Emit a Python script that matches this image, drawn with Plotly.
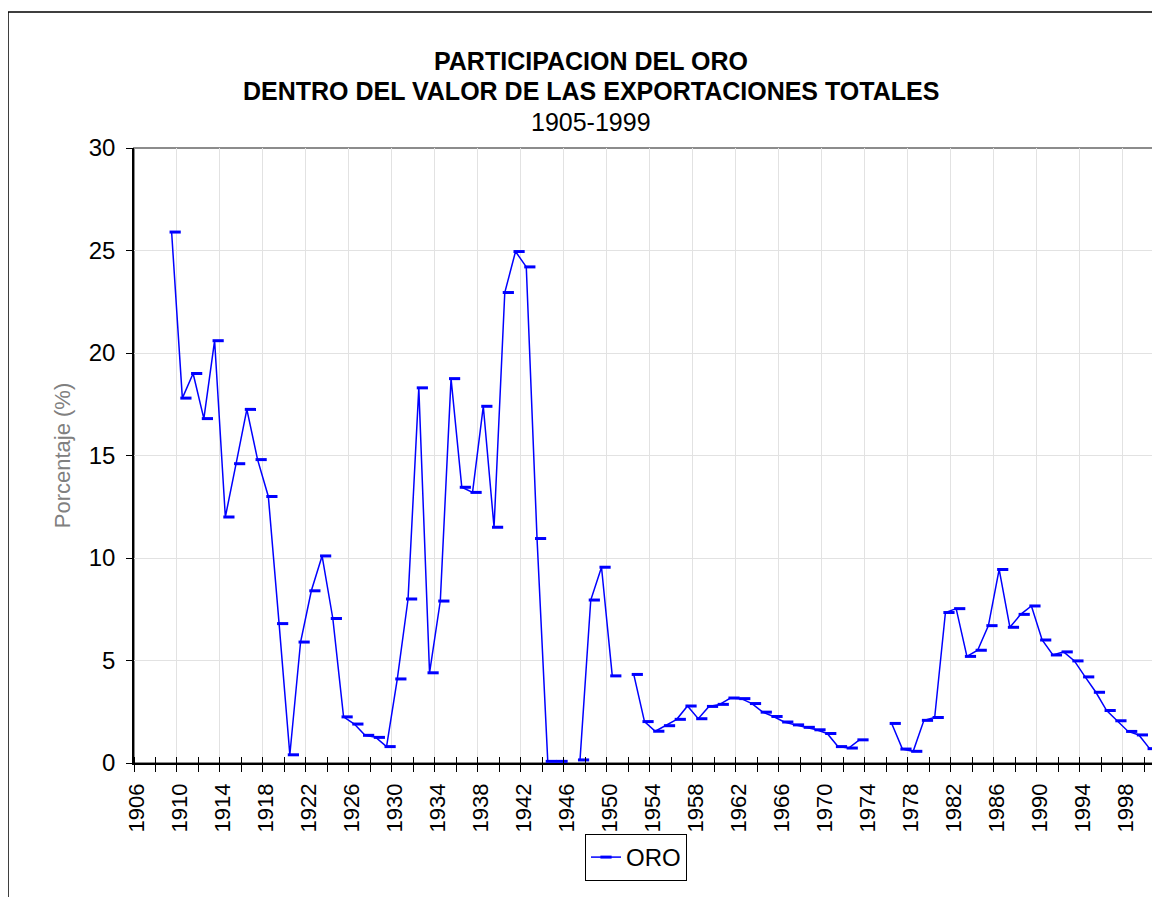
import plotly.graph_objects as go

# ---- data ----
years = list(range(1909, 2001))
oro = [
    25.9, 17.8, 19.0, 16.8, 20.6, 12.0, 14.6, 17.25, 14.8, 13.0,      # 1909-1918
    6.8, 0.4, 5.9, 8.4, 10.1, 7.05, 2.25, 1.9, 1.35, 1.25,            # 1919-1928
    0.8, 4.1, 8.0, 18.3, 4.4, 7.9, 18.75, 13.45, 13.2, 17.4,          # 1929-1938
    11.5, 22.95, 24.95, 24.2, 10.95, 0.08, 0.08, None, 0.15, 7.95,    # 1939-1948
    9.55, 4.25, None, 4.32, 2.02, 1.55, 1.82, 2.13, 2.78, 2.16,       # 1949-1958
    2.76, 2.86, 3.17, 3.14, 2.90, 2.48, 2.27, 2.0, 1.86, 1.74,        # 1959-1968
    1.62, 1.44, 0.8, 0.73, 1.13, None, None, 1.93, 0.68, 0.57,        # 1969-1978
    2.08, 2.22, 7.34, 7.53, 5.2, 5.5, 6.7, 9.44, 6.62, 7.25,          # 1979-1988
    7.66, 6.0, 5.27, 5.42, 4.98, 4.2, 3.45, 2.56, 2.06, 1.54,         # 1989-1998
    1.37, 0.70,                                                       # 1999-2000
]
label_years = list(range(1906, 2000, 4))
y_ticks = [0, 5, 10, 15, 20, 25, 30]

title_lines = ["<b>PARTICIPACION DEL ORO</b>",
               "<b>DENTRO DEL VALOR DE LAS EXPORTACIONES TOTALES</b>",
               "1905-1999"]

# ---- layout geometry ----
# page coordinates of the reference; the html body adds an 8px offset
OFF = 8
W, H = 1160, 897
PL, PR, PT, PB = 134, 1155, 148, 763          # plot area in page pixels
L, R, T, B = PL - OFF, PR - OFF, PT - OFF, PB - OFF
FONT = "Liberation Sans, Arial, sans-serif"
BLUE = "#0000FF"
GRID = "#e2e2e2"


def px(x_page):
    return (x_page - PL) / (PR - PL)


def py(y_page):
    return (PB - y_page) / (PB - PT)


x_min, x_max = 1905.5, 2000.5
boundary4 = [y - 0.5 for y in label_years if y - 0.5 > x_min]
boundary2 = [x_min + 2 * k for k in range(0, 48)]
marker_shift = 0.33   # dash marker drawn to the right of the vertex
label_shift = -0.25   # rotated labels sit slightly left of category centre

fig = go.Figure()
fig.add_trace(go.Scatter(
    x=years, y=oro, mode="lines", line=dict(color=BLUE, width=1.5),
    showlegend=False, connectgaps=False, xaxis="x", yaxis="y"))
fig.add_trace(go.Scatter(
    x=[y + marker_shift for y in years], y=oro, mode="markers",
    marker=dict(symbol="line-ew", size=8, color=BLUE,
                line=dict(color=BLUE, width=3)),
    showlegend=False, xaxis="x", yaxis="y"))
fig.add_trace(go.Scatter(
    x=[None], y=[None], mode="lines+markers", name="ORO",
    line=dict(color=BLUE, width=1.5),
    marker=dict(symbol="line-ew", size=8, color=BLUE,
                line=dict(color=BLUE, width=3)),
    showlegend=True))

fig.update_layout(
    width=W, height=H,
    margin=dict(l=L, r=W - R, t=T, b=H - B, pad=0, autoexpand=False),
    paper_bgcolor="white", plot_bgcolor="white",
    font=dict(family=FONT, color="black", size=24),
    showlegend=True,
    legend=dict(orientation="h", x=px(636), y=py(834), xanchor="center",
                yanchor="top", bordercolor="black", borderwidth=1,
                bgcolor="white", font=dict(size=24, family=FONT),
                itemwidth=30),
    xaxis=dict(
        range=[x_min, x_max], tickmode="array",
        tickvals=[y + label_shift for y in label_years],
        ticktext=[str(y) for y in label_years], tickangle=-90,
        ticks="", ticklen=0, showgrid=False, zeroline=False,
        showline=True, linecolor="black", linewidth=1.5, automargin=False,
        tickfont=dict(size=22, family=FONT), ticklabelstandoff=10,
        minor=dict(tickmode="array", tickvals=boundary2, ticks="outside",
                   ticklen=7, tickcolor="black", tickwidth=1, showgrid=False),
    ),
    xaxis2=dict(
        overlaying="x", matches="x", range=[x_min, x_max], side="bottom",
        anchor="y", tickmode="array", tickvals=boundary4, showticklabels=False,
        ticks="", showgrid=True, gridcolor=GRID, gridwidth=1,
        zeroline=False, showline=False, automargin=False,
        minor=dict(tickmode="array", tickvals=boundary2, ticks="inside",
                   ticklen=6, tickcolor="black", tickwidth=1, showgrid=False),
    ),
    yaxis=dict(
        range=[0, 30], tickmode="array", tickvals=y_ticks,
        ticks="outside", ticklen=6, tickcolor="black", automargin=False,
        showgrid=True, gridcolor=GRID, gridwidth=1, zeroline=False,
        showline=True, linecolor="black", linewidth=1.5,
        tickfont=dict(size=24, family=FONT), ticklabelstandoff=6,
        title=dict(text="Porcentaje (%)", font=dict(size=22, color="#808080",
                                                   family=FONT), standoff=12),
    ),
)

# make xaxis2 exist with a dummy invisible trace
fig.add_trace(go.Scatter(x=[None], y=[None], xaxis="x2", yaxis="y",
                         showlegend=False, hoverinfo="skip"))

# plot-area border (gray, top & right) and outer chart frame
fig.add_shape(type="rect", xref="paper", yref="paper", x0=0, y0=0, x1=1, y1=1,
              line=dict(color="#8c8c8c", width=2), layer="below")
fig.add_shape(type="rect", xref="paper", yref="paper",
              x0=px(8), y0=py(910), x1=px(1175), y1=py(12),
              line=dict(color="black", width=1.5), layer="below")

title_y = [61, 91, 122]
for txt, yy in zip(title_lines, title_y):
    fig.add_annotation(text=txt, xref="paper", yref="paper", x=px(591), y=py(yy),
                       xanchor="center", yanchor="middle", showarrow=False,
                       font=dict(size=25, family=FONT, color="black"))

fig.write_html("out.html")
